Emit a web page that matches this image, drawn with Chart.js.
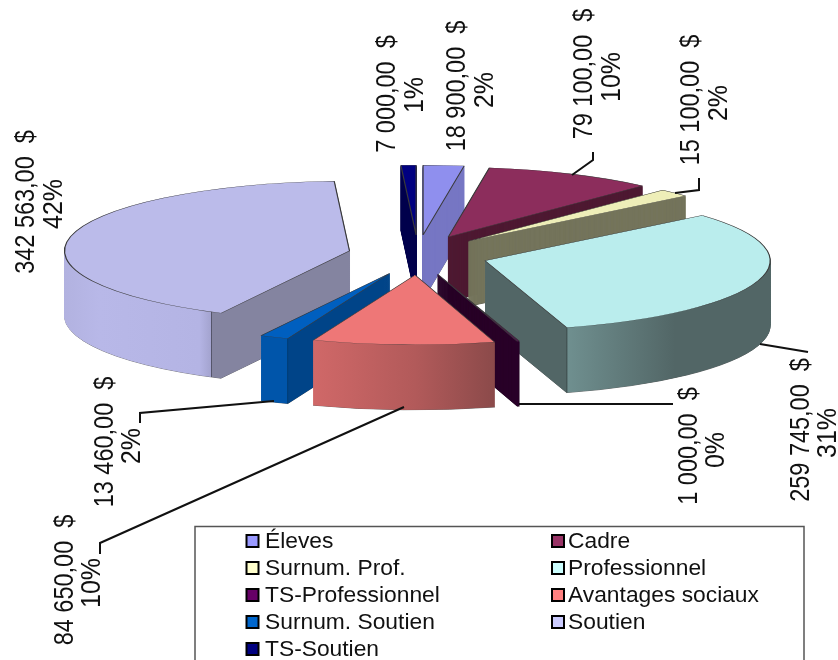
<!DOCTYPE html>
<html>
<head>
<meta charset="utf-8">
<script src="https://cdn.jsdelivr.net/npm/chart.js@4/dist/chart.umd.min.js"></script>
<style>html,body{margin:0;padding:0;background:#fff}canvas{display:block}</style>
</head>
<body>
<canvas id="c" width="838" height="660"></canvas>
<script>
const categories = ["Éleves","Cadre","Surnum. Prof.","Professionnel","TS-Professionnel","Avantages sociaux","Surnum. Soutien","Soutien","TS-Soutien"];
const amounts = [18900,79100,15100,259745,1000,84650,13460,342563,7000];
const percentLabels = ["2%","10%","2%","31%","0%","10%","2%","42%","1%"];
const faceColors = ["#8f8fee","#8c2d5c","#eeeeb8","#baeded","#5c005c","#ee7777","#005fbf","#bbbbea","#000080"];
const legendColors = ["#9999ff","#993366","#ffffcc","#ccffff","#660066","#ff8080","#0066cc","#ccccff","#000080"];

// Presentation settings (not data)
const pie = {cx:418, cy:255, r:285, k:0.245, explodeX:70, explodeY:20, depth:65};
const wallStops = [
  [[0,"#7777c4"]],
  [[0,"#4f1a33"]],
  [[0,"#75755c"]],
  [[0,"#526666"],[81,"#526666"],[81.5,"#3f4f4f"],[83,"#6f8f8f"],[190,"#526666"],[285,"#526666"]],
  [[0,"#2a0028"]],
  [[-102,"#d06868"],[0,"#b25a5a"],[80,"#8b4a4a"]],
  [[-130,"#0055aa"],[-103,"#0055aa"],[-102,"#003a70"],[-101,"#004488"],[0,"#004488"]],
  [[-285,"#b2b2e0"],[-250,"#b8b8e8"],[-150,"#b4b4e4"],[-139,"#a4a4d0"],[-138,"#55556a"],[-137,"#8484a0"],[0,"#8484a0"]],
  [[0,"#00004f"]]
];
const labelPos = [
  [458,86,486,90],[585,74,613,77],[692,100,720,103],[802,430,829,433],[690,446,717,450],
  [66,580,93,583],[106,442,133,446],[27,202,55,204],[388,94,416,95]
];
const leaders = [
  null,
  [[572,175],[593,160],[593,152]],
  [[675,193],[699,190],[699,178]],
  [[760,344],[808,352]],
  [[519,404],[673,404]],
  [[404,407],[100,543],[100,554]],
  [[274,401],[140,413],[140,423]],
  null,
  null
];

function money(v){
  const s = String(v).replace(/\B(?=(\d{3})+$)/g, "\u00a0");
  return s + ",00\u00a0\u00a0$";
}

const pie3d = {
  id:"pie3d",
  beforeDatasetsDraw(chart){
    const ctx = chart.ctx;
    const arcs = chart.getDatasetMeta(0).data;
    const order = arcs.map((a,i)=>i).sort((a,b)=>{
      const m = el=>(el.startAngle+el.endAngle)/2;
      return Math.sin(m(arcs[a])) - Math.sin(m(arcs[b]));
    });
    for(const i of order){
      const arc = arcs[i];
      const mid = (arc.startAngle+arc.endAngle)/2;
      const ox = pie.cx + Math.cos(mid)*pie.explodeX;
      const oy = pie.cy + Math.sin(mid)*pie.explodeY;
      const orig = arc.options;
      const stops = wallStops[i];
      let fill = stops[0][1];
      if(stops.length>1){
        const x0 = arc.x+stops[0][0], x1 = arc.x+stops[stops.length-1][0];
        fill = ctx.createLinearGradient(x0,0,x1,0);
        stops.forEach(s=>fill.addColorStop((arc.x+s[0]-x0)/(x1-x0), s[1]));
      }
      const place = d=>{
        ctx.translate(ox, oy+d);
        ctx.scale(1, pie.k);
        ctx.translate(-arc.x, -arc.y);
      };
      for(let d=pie.depth; d>=0.5; d-=0.25){
        ctx.save();
        place(d);
        arc.options = Object.assign({}, orig, {
          backgroundColor:fill,
          borderWidth: d===pie.depth ? 1 : 0.6,
          borderColor: d===pie.depth ? "#333" : fill
        });
        arc.draw(ctx);
        ctx.restore();
      }
      ctx.save();
      place(0);
      arc.options = Object.assign({}, orig, {borderWidth:1.2, borderColor:"#3a3a3a"});
      arc.draw(ctx);
      ctx.restore();
      arc.options = orig;
    }
    return false;
  },
  afterDraw(chart){
    const ctx = chart.ctx;
    ctx.save();
    // leader lines
    ctx.strokeStyle = "#111"; ctx.lineWidth = 2; ctx.lineJoin = "miter";
    leaders.forEach(l=>{
      if(!l) return;
      ctx.beginPath();
      l.forEach((p,j)=> j ? ctx.lineTo(p[0],p[1]) : ctx.moveTo(p[0],p[1]));
      ctx.stroke();
    });
    // rotated data labels
    ctx.fillStyle = "#111";
    ctx.font = '27px "Liberation Sans", Arial, sans-serif';
    ctx.textAlign = "center"; ctx.textBaseline = "middle";
    const vert = (t,x,y,sx)=>{
      ctx.save(); ctx.translate(x,y); ctx.rotate(-Math.PI/2); ctx.scale(sx,1); ctx.fillText(t,0,0); ctx.restore();
    };
    amounts.forEach((v,i)=>{
      const p = labelPos[i];
      vert(money(v),p[0],p[1],0.87);
      vert(percentLabels[i],p[2],p[3],0.925);
    });
    // legend frame
    ctx.strokeStyle = "#555"; ctx.lineWidth = 1.5;
    ctx.beginPath(); ctx.moveTo(195,662); ctx.lineTo(195,526.5); ctx.lineTo(804,526.5); ctx.lineTo(804,662); ctx.stroke();
    // legend entries
    ctx.textAlign = "left";
    ctx.font = '22.8px "Liberation Sans", Arial, sans-serif';
    categories.forEach((name,i)=>{
      const col = i%2, row = Math.floor(i/2);
      const sx = col ? 552 : 246.5, tx = col ? 568 : 265, y = 541 + row*27;
      ctx.fillStyle = legendColors[i];
      ctx.strokeStyle = "#000"; ctx.lineWidth = 2;
      ctx.fillRect(sx,y-6,12,12); ctx.strokeRect(sx,y-6,12,12);
      ctx.fillStyle = "#111";
      ctx.fillText(name, tx, y+1);
    });
    ctx.restore();
  }
};

new Chart(document.getElementById("c"),{
  type:"pie",
  data:{labels:categories,datasets:[{data:amounts,backgroundColor:faceColors,borderWidth:0,radius:pie.r}]},
  options:{
    responsive:false,animation:false,
    layout:{padding:0},
    plugins:{legend:{display:false},tooltip:{enabled:false},title:{display:false}}
  },
  plugins:[pie3d]
});
</script>
</body>
</html>
